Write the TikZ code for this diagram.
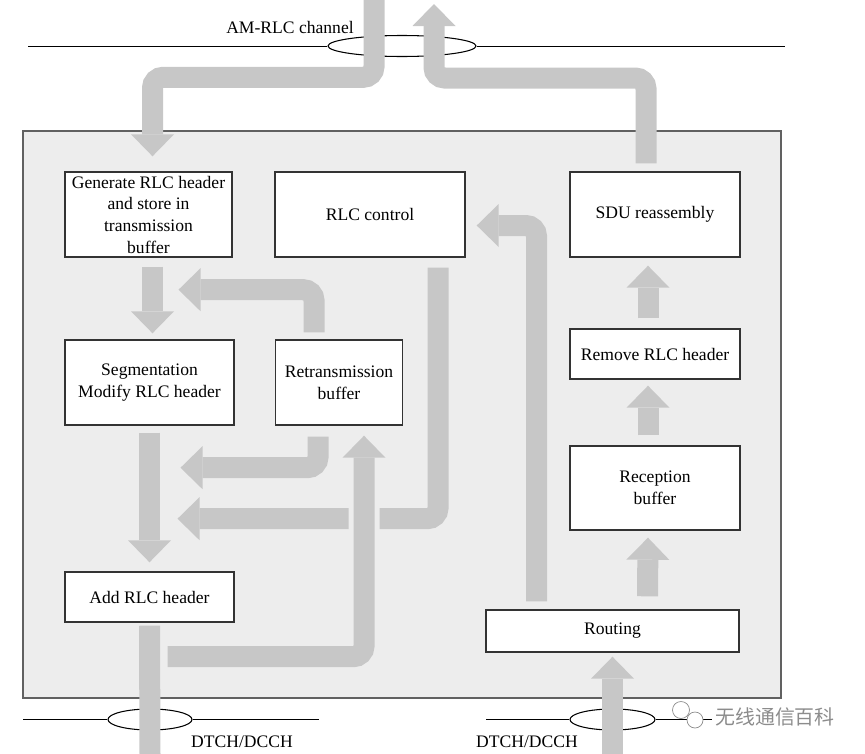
\documentclass[tikz,border=0pt]{standalone}
\usepackage{fontspec}
\setmainfont{Liberation Serif}
\newfontfamily\cjkfont{Noto Sans CJK SC}
\usetikzlibrary{arrows.meta,calc,shapes.geometric}

\begin{document}
\begin{tikzpicture}[x=0.03cm,y=-0.03cm,
    font=\fontsize{15}{18.5}\selectfont,
    rlcbox/.style={draw=boxLine,line width=1.2pt,fill=white,align=center,inner sep=2pt},
    pipe/.style={draw=pipeGrey,line width=0.63cm,rounded corners=0.32cm},
    pipearrow/.style={pipe,-{Triangle[width=1.29cm,length=0.66cm,line width=0pt]}},
    gapped/.style={preaction={draw=frameFill,line width=0.93cm,-}},
    chanring/.style={draw=black,fill=white,ellipse,inner sep=0pt,line width=0.9pt}]
  \definecolor{boxLine}{rgb}{0.2,0.2,0.2}
  \definecolor{pipeGrey}{rgb}{0.78,0.78,0.78}
  \definecolor{frameFill}{rgb}{0.93,0.93,0.93}
  \definecolor{frameLine}{rgb}{0.38,0.38,0.38}
  \definecolor{markGrey}{rgb}{0.55,0.55,0.55}

  \useasboundingbox (0,0) rectangle (865,754);
  \draw[draw=frameLine,line width=1.3pt,fill=frameFill] (23,131) rectangle (781,698);

  \node[chanring,minimum width=4.44cm,minimum height=0.63cm] (amring) at (402,46) {};
  \node[chanring,minimum width=2.52cm,minimum height=0.63cm] (txring) at (150,719.5) {};
  \node[chanring,minimum width=2.55cm,minimum height=0.63cm] (rxring) at (612.5,719.5) {};
  \draw[line width=0.8pt] (28,46) -- (amring.west) (amring.east) -- (785,46);
  \draw[line width=0.8pt] (23,719.5) -- (txring.west) (txring.east) -- (319,719.5);
  \draw[line width=0.8pt] (486,719.5) -- (rxring.west) (rxring.east) -- (712,719.5);

  \node (amlabel) at (290,27) {AM-RLC channel};
  \node (txlabel) at (242,742) {DTCH/DCCH};
  \node (rxlabel) at (527,742) {DTCH/DCCH};

  \node[rlcbox,minimum width=5.01cm,minimum height=2.55cm] (gen) at (148.5,214.5) {Generate RLC header\\and store in\\transmission\\buffer};
  \node[rlcbox,minimum width=5.7cm,minimum height=2.55cm] (ctrl) at (370,214.5) {RLC control};
  \node[rlcbox,minimum width=5.1cm,minimum height=2.55cm] (sdu) at (655,214.5) {SDU reassembly};
  \node[rlcbox,minimum width=5.07cm,minimum height=2.55cm] (seg) at (149.5,382.5) {Segmentation\\Modify RLC header};
  \node[rlcbox,minimum width=3.81cm,minimum height=2.55cm] (ret) at (339,382.5) {Retransmission\\buffer};
  \node[rlcbox,minimum width=5.1cm,minimum height=1.5cm] (rem) at (655,354) {Remove RLC header};
  \node[rlcbox,minimum width=5.1cm,minimum height=2.52cm] (rec) at (655,488) {Reception\\buffer};
  \node[rlcbox,minimum width=5.07cm,minimum height=1.5cm] (add) at (149.5,597) {Add RLC header};
  \node[rlcbox,minimum width=7.59cm,minimum height=1.26cm] (rout) at (612.5,631) {Routing};

  \coordinate (amtx) at (374,0);
  \coordinate (amrx) at (434,4);
  \coordinate (dtchtx) at (150,754);
  \coordinate (dtchrx) at (612.5,754);

  \draw[pipearrow] (amtx) |- ($(gen.north)+(4,-94)$) -- ($(gen.north)+(4,-15)$);
  \draw[pipearrow] ($(sdu.north)+(-9,-8)$) |- ($(amrx)+(0,74)$) -- (amrx);
  \draw[pipearrow] ($(gen.south)+(4,9)$) -- ($(seg.north)+(3,-6)$);
  \draw[pipearrow] ($(ret.north)+(-25,-7)$) |- ($(gen.south)+(30,32)$);
  \draw[pipearrow] ($(seg.south)+(0,7)$) -- ($(add.north)+(0,-9)$);
  \draw[pipearrow] ($(ret.south)+(-21,11)$) |- ($(seg.south)+(31,42)$);
  \draw[pipearrow] ($(ctrl.south)+(68,10)$) |- ($(seg.south)+(28,93)$);
  \draw[pipearrow,gapped] ($(add.south)+(18,34)$) -| ($(ret.south)+(25,10)$);
  \draw[pipe] ($(add.south)+(0,3)$) -- (dtchtx);
  \draw[pipearrow] (dtchrx) -- ($(rout.south)+(0,4)$);
  \draw[pipearrow] ($(rout.north)+(-76,-8)$) |- ($(ctrl.east)+(11,11)$);
  \draw[pipearrow] ($(rout.north)+(35,-13)$) -- ($(rec.south)+(-7,7)$);
  \draw[pipearrow] ($(rec.north)+(-7,-10)$) -- ($(rem.south)+(-7,6)$);
  \draw[pipearrow] ($(rem.north)+(-7,-10)$) -- ($(sdu.south)+(-7,8)$);

  \draw[markGrey,fill=white,line width=0.6pt] (681,710) circle (8.5);
  \draw[markGrey,fill=white,line width=0.6pt] (695,720) circle (8);
  \node[text=markGrey,font=\cjkfont\fontsize{17}{20}\selectfont] (wmark) at (775,717) {无线通信百科};
\end{tikzpicture}
\end{document}
